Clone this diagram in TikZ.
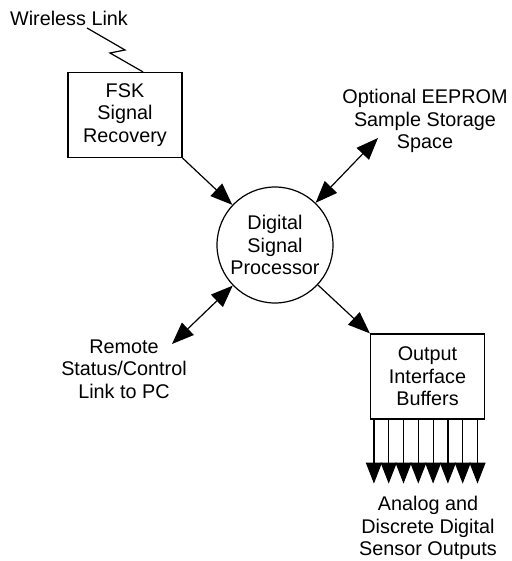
\documentclass[tikz,border=0pt]{standalone}
\usepackage{fontspec}
\setmainfont{Liberation Sans}
\usepackage{tikz}
\usetikzlibrary{arrows.meta}
\tikzstyle{graph}=[x=0.5pt, y=-0.5pt, line width=0.6pt, font=\fontsize{9.9}{11.25}\selectfont]
\tikzstyle{blk}=[rectangle, draw, minimum width=57pt, minimum height=42.5pt, inner sep=0pt, align=center]
\tikzstyle{proc}=[circle, draw, minimum size=58pt, inner sep=0pt, align=center]
\tikzstyle{lbl}=[inner sep=0pt, align=center]
\tikzstyle{edge}=[-{Triangle[length=11pt, width=8.5pt]}]
\tikzstyle{biedge}=[{Triangle[length=11pt, width=8.5pt]}-{Triangle[length=11pt, width=8.5pt]}]
\tikzstyle{busedge}=[-{Triangle[length=10.5pt, width=8pt]}]

\begin{document}
\begin{tikzpicture}[graph]
	\useasboundingbox (0,0) rectangle (512,561);
	\draw (69,18) node[lbl] (wl) {Wireless Link};
	\draw (125,115) node[blk] (fsk) {FSK\\Signal\\Recovery};
	\draw (275,245) node[proc] (dsp) {Digital\\Signal\\Processor};
	\draw (427.5,376.5) node[blk] (out) {Output\\Interface\\Buffers};
	\draw (425,121) node[lbl] (mem) {Optional EEPROM\\Sample Storage\\Space};
	\draw (124,369) node[lbl] (pc) {Remote\\Status/Control\\Link to PC};
	\draw (428,528) node[lbl] (sens) {Analog and\\Discrete Digital\\Sensor Outputs};
	\coordinate (z0) at (87,28);
	\coordinate (z1) at (125,50);
	\coordinate (z2) at (110,53);
	\coordinate (memend) at (378,138);
	\coordinate (pcend) at (172,344);
	% radio link into the receiver
	\draw (z0) -- (z1) -- (z2) -- (fsk.north -| 143,0);
	\draw[edge] (fsk.south east) -- (dsp);
	\draw[edge] (dsp) -- (out.north west);
	\draw[biedge] (dsp) -- (memend);
	\draw[biedge] (dsp) -- (pcend);
	% output lines
	\foreach \i in {0,...,7}
		\draw[busedge] ([xshift=2pt+\i*7.4pt]out.south west) -- ++(0,64);
\end{tikzpicture}
\end{document}
